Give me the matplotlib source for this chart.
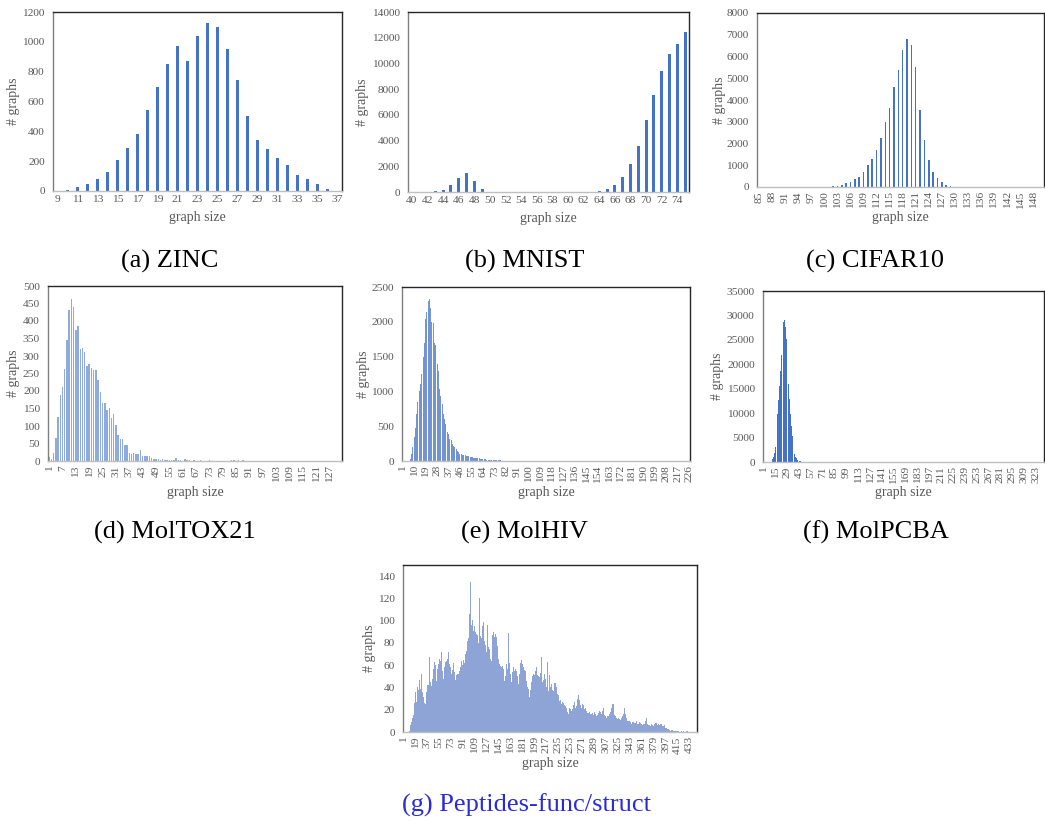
import matplotlib
matplotlib.use("Agg")
import matplotlib.pyplot as plt

plt.rcParams['font.family'] = 'serif'
plt.rcParams['font.serif'] = ['Liberation Serif', 'DejaVu Serif']

# ---- data (graph size -> number of graphs) ----
zinc_start = 9
zinc_counts = [0, 8, 30, 50, 80, 130, 205, 285, 385, 540, 700, 850, 975, 870, 1040,
               1125, 1100, 950, 745, 500, 345, 280, 220, 175, 105, 80, 45, 15, 0]

mnist_start = 40
mnist_counts = [0, 5, 15, 60, 180, 545, 1063, 1452, 830, 233, 20,
                5, 5, 5, 5, 5, 5, 5, 5, 5, 5, 5, 5,
                20, 78, 207, 519, 1167, 2178, 3552, 5626, 7570, 9385, 10760, 11540, 12445]

cifar_start = 85
cifar_counts = [0] * 15 + [
    10, 20, 40, 60, 110, 170, 230, 350, 480, 680, 1000, 1300, 1720, 2230, 2980, 3620,
    4600, 5400, 6300, 6820, 6540, 5520, 3560, 2140, 1260, 680, 430, 240, 110, 50, 20, 10,
] + [0] * 19

tox_start = 1
tox_counts = [
    10, 7, 24, 67, 126, 188, 211, 262, 347, 430, 464, 440, 375, 385, 321, 323,
    312, 272, 278, 267, 259, 261, 230, 197, 166, 166, 145, 150, 123, 133, 102, 73,
    64, 62, 45, 45, 24, 19, 24, 20, 19, 30, 14, 13, 13, 13, 9, 7,
    5, 7, 4, 7, 4, 4, 2, 3, 4, 8, 3, 2, 1, 5, 2, 2, 1, 2, 1, 1, 2, 1, 1, 1, 3,
    0, 0, 1, 0, 0, 0, 0, 1, 0, 2, 2, 1, 3, 1, 2, 0, 1,
] + [0] * 42

hiv_start = 1
hiv_counts = [
    0, 0, 0, 0, 0, 5, 30, 105, 200, 340, 480, 680, 850, 1010, 1110, 1250,
    1500, 1690, 2040, 2140, 2300, 2330, 2200, 2000, 1980, 1690, 1660, 1400, 1300, 1040,
    940, 820, 680, 610, 530, 420, 395, 320, 295, 250, 220, 200, 175, 150, 130, 105,
    95, 90, 85, 80, 75, 70, 65, 60, 55, 52, 48, 45, 42, 40, 36, 32, 30, 28, 25, 23,
    20, 19, 17, 16, 15, 14, 13, 12, 11, 10, 9, 8, 7, 6, 5,
    5, 4, 4, 3, 3, 3, 2, 2, 2, 2, 2, 1, 2, 1, 1, 1, 1, 1, 0, 1, 1, 0, 1, 0, 0, 1,
    0, 0, 0, 1, 0, 0, 0, 0, 1, 0, 0, 0, 0,
] + [0] * 106

pcba_start = 1
pcba_counts = [
    0, 0, 0, 0, 0, 0, 0, 5, 30, 100, 250, 550, 1100, 1900, 3100, 5000, 7200, 9800,
    12600, 15500, 18600, 21900, 24700, 27000, 28700, 29000, 27600, 25200, 22300,
    19000, 15900, 12800, 9900, 7400, 5300, 3700, 2500, 1700, 1100, 750, 500, 350,
    250, 170, 120, 90, 60, 45, 35, 25, 20, 15, 12, 10, 8, 6, 5, 4, 3, 2,
] + [0] * 272

pep_start = 1
pep_counts = [
    0, 0, 0, 0, 0, 0, 0, 0, 0, 1, 3, 6, 9, 12, 13, 15, 14, 26, 36, 45,
    27, 40, 44, 38, 47, 43, 39, 52, 47, 36, 31, 36, 26, 25, 29, 36, 42, 38, 42, 40,
    67, 45, 43, 41, 48, 54, 57, 63, 55, 60, 46, 50, 57, 61, 66, 66, 64, 69, 72, 55,
    40, 48, 58, 61, 63, 64, 58, 66, 72, 68, 61, 58, 53, 52, 56, 58, 62, 54, 49, 47,
    51, 55, 52, 52, 48, 55, 58, 61, 64, 60, 67, 65, 62, 64, 70, 73, 75, 82, 84, 95,
    106, 135, 100, 96, 101, 93, 91, 95, 93, 90, 88, 91, 87, 85, 80, 120, 88, 86, 84, 90,
    95, 99, 85, 82, 78, 75, 72, 96, 79, 76, 75, 70, 66, 64, 80, 87, 90, 86, 85, 88,
    82, 85, 77, 70, 66, 61, 60, 59, 58, 57, 59, 57, 52, 46, 50, 56, 61, 57, 70, 89,
    62, 57, 52, 45, 50, 54, 58, 56, 55, 57, 54, 55, 50, 45, 43, 52, 64, 62, 65, 64,
    61, 58, 60, 56, 55, 50, 46, 43, 40, 39, 35, 31, 38, 43, 45, 50, 54, 52, 51, 49,
    55, 58, 52, 51, 50, 48, 49, 53, 52, 67, 45, 39, 47, 52, 55, 48, 40, 55, 63, 37,
    45, 51, 40, 42, 43, 38, 34, 37, 44, 51, 44, 40, 37, 34, 33, 30, 28, 29, 26, 25,
    27, 28, 26, 24, 25, 23, 22, 21, 18, 16, 20, 22, 21, 19, 19, 21, 22, 24, 27, 25,
    22, 19, 23, 30, 40, 33, 29, 28, 24, 22, 23, 25, 24, 22, 21, 22, 20, 19, 17, 16,
    17, 18, 17, 16, 16, 15, 17, 15, 16, 18, 16, 15, 14, 15, 16, 17, 19, 21, 18, 16,
    17, 19, 22, 18, 15, 14, 13, 13, 14, 15, 14, 16, 16, 18, 22, 21, 25, 25, 18, 15,
    14, 13, 13, 12, 13, 13, 12, 12, 11, 13, 12, 14, 16, 19, 22, 24, 16, 13, 12, 10,
    10, 11, 10, 9, 8, 7, 9, 10, 9, 8, 7, 8, 10, 8, 7, 7, 8, 9, 8, 7,
    7, 6, 6, 7, 7, 8, 10, 13, 11, 7, 6, 6, 6, 5, 6, 7, 6, 4, 5, 7,
    7, 8, 8, 7, 6, 7, 6, 6, 7, 7, 7, 5, 4, 5, 6, 5, 4, 4, 3, 3,
    3, 2, 2, 1, 2, 2, 2, 1, 1, 2, 1, 1, 1, 1, 1, 1, 1, 0, 1, 0,
    1, 0, 0, 1, 0, 0, 0, 0, 1, 1, 1, 0, 0, 0, 0, 0, 0, 0, 0, 0,
    0, 0, 0, 0,
]

W, H = 1045, 821
fig = plt.figure(figsize=(W / 100, H / 100), dpi=100)

tick_col = '#595959'


def panel(box, start, counts, every, ymax, ytop, ystep, color, width, rotate,
          ylab_x, xlab_y, caption, cap_x, cap_y, cap_col='black'):
    l, t, r, b = box
    ax = fig.add_axes([l / W, 1 - b / H, (r - l) / W, (b - t) / H])
    xs = list(range(start, start + len(counts)))
    ax.bar(xs, counts, width=width, color=color, linewidth=0)
    ax.set_xlim(start - 0.5, xs[-1] + 0.5)
    ax.set_ylim(0, ymax)
    ax.set_xticks(xs[::every])
    ax.set_yticks(list(range(0, ytop + 1, ystep)))
    ax.tick_params(axis='x', length=0, pad=3, labelsize=8.2, labelcolor=tick_col,
                   labelrotation=90 if rotate else 0)
    ax.tick_params(axis='y', length=0, pad=6, labelsize=8.2, labelcolor=tick_col)
    for side in ['top', 'right']:
        ax.spines[side].set_color('#262626')
    ax.spines['left'].set_color('#7F7F7F')
    ax.spines['bottom'].set_color('#BFBFBF')
    for s in ax.spines.values():
        s.set_linewidth(1.0)
    ax.set_xlabel('graph size', fontsize=10, color=tick_col, va='center')
    ax.set_ylabel('# graphs', fontsize=10, color=tick_col, va='center')
    ax.xaxis.set_label_coords(0.5, (b - xlab_y) / (b - t))
    ax.yaxis.set_label_coords((ylab_x - l) / (r - l), 0.5)
    fig.text(cap_x / W, 1 - cap_y / H, caption, fontsize=19, color=cap_col,
             ha='center', va='center')
    return ax


blue = '#4472C4'
panel((53, 12, 342, 191), zinc_start, zinc_counts, 2, 1200, 1200, 200, blue, 0.3, False,
      13, 217, '(a) ZINC', 170, 261)
panel((408, 12, 689, 192), mnist_start, mnist_counts, 2, 14000, 14000, 2000, blue, 0.38, False,
      363, 218, '(b) MNIST', 525, 261)
panel((757, 13, 1044, 187), cifar_start, cifar_counts, 3, 8000, 8000, 1000, blue, 0.35, True,
      719, 217, '(c) CIFAR10', 875, 261)
panel((48, 286, 342, 461), tox_start, tox_counts, 6, 500, 500, 50, '#8FAADC', 0.65, True,
      14, 492, '(d) MolTOX21', 175, 532)
panel((402, 287, 690, 461), hiv_start, hiv_counts, 9, 2500, 2500, 500, '#7393D3', 0.8, True,
      363, 492, '(e) MolHIV', 524, 532)
panel((763, 291, 1044, 462), pcba_start, pcba_counts, 14, 35000, 35000, 5000, blue, 0.85, True,
      717, 492, '(f) MolPCBA', 876, 532)
panel((403, 565, 697, 732), pep_start, pep_counts, 18, 150, 140, 20, '#8EA3D6', 1.0, True,
      370, 763, '(g) Peptides-func/struct', 526, 805, cap_col='#2A2AD8')

fig.savefig('out.png', dpi=100)
